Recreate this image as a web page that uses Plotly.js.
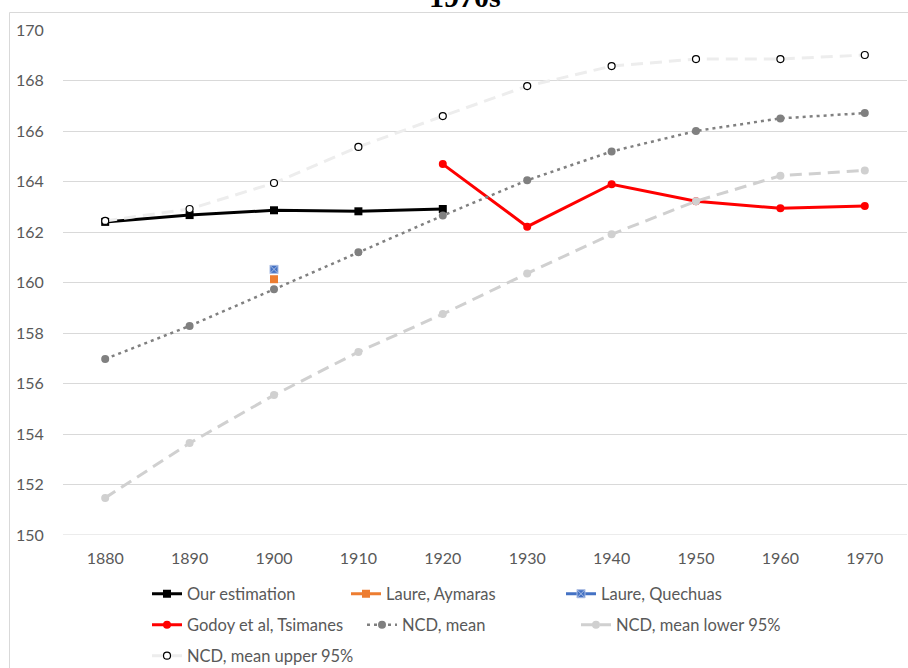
<!DOCTYPE html>
<html>
<head>
<meta charset="utf-8">
<script src="https://cdn.plot.ly/plotly-3.0.1.min.js"></script>
<style>html,body{margin:0;padding:0;background:#fff;}#chart{width:908px;height:668px;}</style>
</head>
<body>
<div id="chart"></div>
<script>
const years = [1880, 1890, 1900, 1910, 1920, 1930, 1940, 1950, 1960, 1970];
const tickLabels = ['1880','1890','1900','1910','1920','1930','1940','1950','1960','1970'];

const ourYears = [1880, 1890, 1900, 1910, 1920];
const ourEstimation = [162.40, 162.67, 162.86, 162.82, 162.91];

const laureYears = [1900];
const laureAymaras = [160.13];
const laureQuechuas = [160.52];

const godoyYears = [1920, 1930, 1940, 1950, 1960, 1970];
const godoyTsimanes = [164.69, 162.21, 163.89, 163.22, 162.94, 163.03];

const ncdMean = [156.97, 158.28, 159.73, 161.20, 162.65, 164.05, 165.19, 166.00, 166.50, 166.71];
const ncdLower = [151.47, 153.64, 155.54, 157.25, 158.75, 160.36, 161.91, 163.22, 164.23, 164.44];
const ncdUpper = [162.44, 162.91, 163.94, 165.37, 166.59, 167.78, 168.57, 168.85, 168.85, 169.01];

const FONT = 'Lato, "Open Sans", sans-serif';
const TXT = '#595959';

const traces = [
  {x: ourYears, y: ourEstimation, name: 'Our estimation', mode: 'lines+markers', legend: 'legend',
   line: {color: '#000000', width: 3}, marker: {symbol: 'square', size: 8, color: '#000000'}},
  {x: laureYears, y: laureAymaras, name: 'Laure, Aymaras', mode: 'lines+markers', legend: 'legend2',
   line: {color: '#ED7D31', width: 3}, marker: {symbol: 'square', size: 8, color: '#ED7D31'}},
  {x: laureYears, y: laureQuechuas, name: 'Laure, Quechuas', mode: 'lines+markers', legend: 'legend3',
   line: {color: '#4472C4', width: 3}, marker: {symbol: 'square-x', size: 8, color: '#4472C4', line: {color: '#A9BCE3', width: 1}}},
  {x: godoyYears, y: godoyTsimanes, name: 'Godoy et al, Tsimanes', mode: 'lines+markers', legend: 'legend4',
   line: {color: '#FF0000', width: 3}, marker: {symbol: 'circle', size: 8, color: '#FF0000'}},
  {x: years, y: ncdMean, name: 'NCD, mean', mode: 'lines+markers', legend: 'legend5',
   line: {color: '#808080', width: 2.5, dash: '3px,4px'}, marker: {symbol: 'circle', size: 8, color: '#808080'}},
  {x: years, y: ncdLower, name: 'NCD, mean lower 95%', mode: 'lines+markers', legend: 'legend6',
   line: {color: '#D0D0D0', width: 3, dash: '12px,7px'}, marker: {symbol: 'circle', size: 8, color: '#D0D0D0'}},
  {x: years, y: ncdUpper, name: 'NCD, mean upper 95%', mode: 'lines+markers', legend: 'legend7',
   line: {color: '#EDEDED', width: 3, dash: '12px,7px'}, marker: {symbol: 'circle', size: 7, color: '#FFFFFF', line: {color: '#000000', width: 1.2}}}
];

const W = 908, H = 668;
const L = 63, R = 907, T = 30, B = 535;
function px2x(p) { return (p - L) / (R - L); }
function py2y(p) { return (B - p) / (B - T); }
function leg(xp, yp) {
  return {x: xp / W, y: 1 - yp / H, xref: 'container', yref: 'container', xanchor: 'left', yanchor: 'middle', orientation: 'h',
          bgcolor: 'rgba(0,0,0,0)', borderwidth: 0, font: {family: FONT, size: 16.5, color: TXT}};
}

const layout = {
  width: W, height: H,
  margin: {l: L, r: W - R, t: T, b: H - B, pad: 0, autoexpand: false},
  paper_bgcolor: '#ffffff', plot_bgcolor: '#ffffff',
  font: {family: FONT, size: 16, color: TXT},
  showlegend: true,
  xaxis: {range: [1875, 1975], tickvals: years, ticktext: tickLabels, showgrid: false, zeroline: false,
          showline: false, ticks: 'outside', ticklen: 9, tickcolor: 'rgba(0,0,0,0)', automargin: false,
          tickfont: {family: FONT, size: 16, color: TXT}, fixedrange: true},
  yaxis: {range: [150, 170], dtick: 2, tick0: 150, showgrid: true, gridcolor: '#D9D9D9', gridwidth: 1,
          zeroline: false, showline: false, ticks: 'outside', ticklen: 15, tickcolor: 'rgba(0,0,0,0)', automargin: false,
          tickfont: {family: FONT, size: 16, color: TXT}, fixedrange: true},
  legend: leg(147, 594),
  legend2: leg(346, 594),
  legend3: leg(561, 594),
  legend4: leg(147, 625),
  legend5: leg(362, 625),
  legend6: leg(576, 625),
  legend7: leg(147, 656),
  shapes: [
    {type: 'rect', xref: 'paper', yref: 'paper', x0: px2x(9.5), x1: px2x(940), y0: py2y(12.5), y1: py2y(700),
     line: {color: '#D9D9D9', width: 1}, fillcolor: 'rgba(0,0,0,0)', layer: 'below'},
    {type: 'line', xref: 'paper', yref: 'y', x0: 0, x1: 1, y0: 150, y1: 150, line: {color: '#D9D9D9', width: 1}, layer: 'below'}
  ],
  annotations: [
    {text: '<b>1970s</b>', xref: 'paper', yref: 'paper', x: px2x(465), y: py2y(15), xanchor: 'center', yanchor: 'bottom',
     showarrow: false, font: {family: '"Liberation Serif", "Times New Roman", serif', size: 30, color: '#000000'}}
  ]
};

Plotly.newPlot('chart', traces, layout, {displayModeBar: false, staticPlot: true});
</script>
</body>
</html>
